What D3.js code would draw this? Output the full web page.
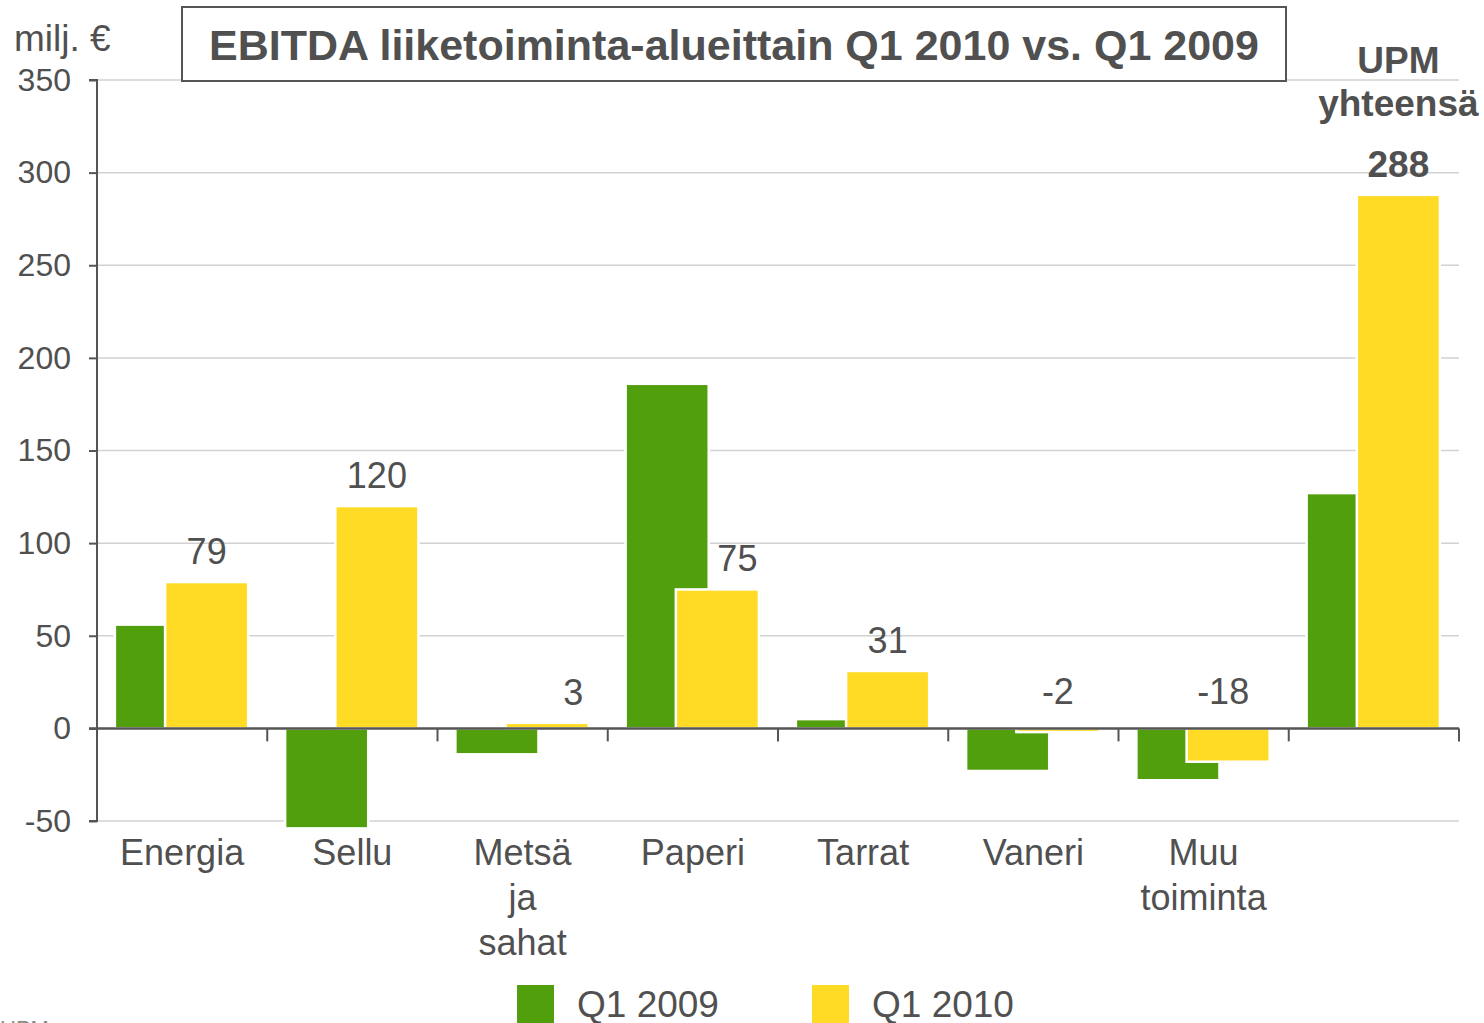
<!DOCTYPE html>
<html>
<head>
<meta charset="utf-8">
<script src="https://cdn.jsdelivr.net/npm/d3@7"></script>
<style>
  html, body { margin: 0; padding: 0; background: #fff; }
  svg { display: block; font-family: "Liberation Sans", Arial, sans-serif; }
</style>
</head>
<body>
<div id="chart"></div>
<script>
// chart data
const categories = ['Energia', 'Sellu', 'Metsä ja sahat', 'Paperi', 'Tarrat', 'Vaneri', 'Muu toiminta', 'UPM yhteensä'];
const categoryLines = [['Energia'], ['Sellu'], ['Metsä', 'ja', 'sahat'], ['Paperi'], ['Tarrat'], ['Vaneri'], ['Muu', 'toiminta'], []];
const seriesNames = ['Q1 2009', 'Q1 2010'];
const q1_2009 = [56, -54, -14, 186, 5, -23, -28, 127];
const q1_2010 = [79, 120, 3, 75, 31, -2, -18, 288];
const yTicks = [-50, 0, 50, 100, 150, 200, 250, 300, 350];
const titleText = 'EBITDA liiketoiminta-alueittain Q1 2010 vs. Q1 2009';
const unitText = 'milj. €';

const W = 1484, H = 1023;
const colors = { 'Q1 2009': '#529f0d', 'Q1 2010': '#ffdb26' };
const textColor = '#505050';
const axisColor = '#555555';
// some value labels sit a bit right of their bar in the original
const labelShift = { 'Metsä ja sahat': 26, 'Paperi': 20, 'Muu toiminta': -5 };

const svg = d3.select('#chart').append('svg')
    .attr('width', W)
    .attr('height', H);

const x = d3.scaleBand().domain(categories).range([97, 1459]).padding(0);
const y = d3.scaleLinear().domain([-50, 350]).range([821, 80]);
const bw = x.bandwidth();
// bar offsets inside each group (bars overlap a bit)
const sub = d3.scaleOrdinal().domain(seriesNames).range([0.105 * bw, 0.40 * bw]);
const barW = 0.488 * bw;

// grid
svg.append('g').selectAll('line')
    .data(yTicks.filter(d => d !== 0))
    .join('line')
    .attr('x1', 97).attr('x2', 1459)
    .attr('y1', d => y(d)).attr('y2', d => y(d))
    .attr('stroke', '#d2d2d2')
    .attr('stroke-width', 1.5);

// y axis
const yAxis = d3.axisLeft(y).tickValues(yTicks).tickSize(8).tickPadding(18).tickFormat(d => String(d));
const gy = svg.append('g')
    .attr('transform', 'translate(97,0)')
    .call(yAxis);
gy.select('.domain').attr('stroke', axisColor).attr('stroke-width', 2).attr('d', `M-8,${y(350)}H0V${y(-50)}H-8`);
gy.selectAll('.tick line').attr('stroke', axisColor).attr('stroke-width', 2);
gy.selectAll('.tick text')
    .attr('fill', textColor)
    .style('font-size', '32px')
    .style('font-family', '"Liberation Sans", Arial, sans-serif');

// bars
const rows = categories.map((c, i) => ({ cat: c, vals: [
    { key: 'Q1 2009', v: q1_2009[i] },
    { key: 'Q1 2010', v: q1_2010[i] }
] }));

const groups = svg.append('g').selectAll('g')
    .data(rows)
    .join('g')
    .attr('transform', d => `translate(${x(d.cat)},0)`);

groups.selectAll('rect')
    .data(d => d.vals)
    .join('rect')
    .attr('x', d => sub(d.key))
    .attr('width', barW)
    .attr('y', d => y(Math.max(0, d.v)))
    .attr('height', d => Math.abs(y(d.v) - y(0)))
    .attr('fill', d => colors[d.key])
    .attr('stroke', '#fff')
    .attr('stroke-width', 2.5);

// x axis at zero
const xAxis = d3.axisBottom(x).tickSize(0).tickFormat('');
const gx = svg.append('g')
    .attr('transform', `translate(0,${y(0)})`)
    .call(xAxis);
gx.select('.domain').attr('stroke', axisColor).attr('stroke-width', 2.5).attr('d', 'M89,0H1459');
svg.append('g').selectAll('line')
    .data(categories.slice(1).map(c => x(c)).concat([x.range()[1]]))
    .join('line')
    .attr('x1', d => d).attr('x2', d => d)
    .attr('y1', y(0)).attr('y2', y(0) + 13)
    .attr('stroke', axisColor)
    .attr('stroke-width', 2);

// value labels of Q1 2010
svg.append('g').selectAll('text')
    .data(rows)
    .join('text')
    .attr('x', d => x(d.cat) + sub('Q1 2010') + barW / 2 + (labelShift[d.cat] || 0))
    .attr('y', d => d.vals[1].v < 0 ? y(0) - 24 : y(d.vals[1].v) - 18)
    .attr('text-anchor', 'middle')
    .attr('fill', textColor)
    .style('font-size', (d, i) => i === categories.length - 1 ? '37px' : '36px')
    .style('font-weight', (d, i) => i === categories.length - 1 ? 'bold' : 'normal')
    .text(d => d.vals[1].v);

// category labels
svg.append('g').selectAll('text')
    .data(categories)
    .join('text')
    .attr('x', d => x(d) + bw / 2)
    .attr('y', 865)
    .attr('text-anchor', 'middle')
    .attr('fill', textColor)
    .style('font-size', '36px')
    .each(function (d, i) {
        d3.select(this).selectAll('tspan')
            .data(categoryLines[i])
            .join('tspan')
            .attr('x', x(d) + bw / 2)
            .attr('dy', (t, j) => j === 0 ? 0 : 45)
            .text(t => t);
    });

// UPM total heading
const lastCat = categories[categories.length - 1];
svg.append('text')
    .attr('x', x(lastCat) + sub('Q1 2010') + barW / 2)
    .attr('y', 73)
    .attr('text-anchor', 'middle')
    .attr('fill', textColor)
    .style('font-size', '37px')
    .style('font-weight', 'bold')
    .selectAll('tspan')
    .data(lastCat.split(' '))
    .join('tspan')
    .attr('x', x(lastCat) + sub('Q1 2010') + barW / 2)
    .attr('dy', (t, j) => j === 0 ? 0 : 43)
    .text(t => t);

// unit
svg.append('text')
    .attr('x', 14).attr('y', 51)
    .attr('fill', textColor)
    .style('font-size', '37px')
    .text(unitText);

// title box
svg.append('rect')
    .attr('x', 182).attr('y', 7)
    .attr('width', 1104).attr('height', 74)
    .attr('fill', '#fff')
    .attr('stroke', axisColor)
    .attr('stroke-width', 2);
svg.append('text')
    .attr('x', 734).attr('y', 60)
    .attr('text-anchor', 'middle')
    .attr('fill', textColor)
    .style('font-size', '43px')
    .style('font-weight', 'bold')
    .text(titleText);

// legend
const legend = svg.append('g').selectAll('g')
    .data(seriesNames)
    .join('g')
    .attr('transform', (d, i) => `translate(${517 + i * 295},985)`);
legend.append('rect')
    .attr('width', 37).attr('height', 38)
    .attr('fill', d => colors[d]);
legend.append('text')
    .attr('x', 60).attr('y', 32)
    .attr('fill', textColor)
    .style('font-size', '37px')
    .text(d => d);

// footer logo text, cut by the page edge
svg.append('text')
    .attr('x', 0).attr('y', 1036)
    .attr('fill', '#888')
    .style('font-size', '22px')
    .text('UPM');
</script>
</body>
</html>
